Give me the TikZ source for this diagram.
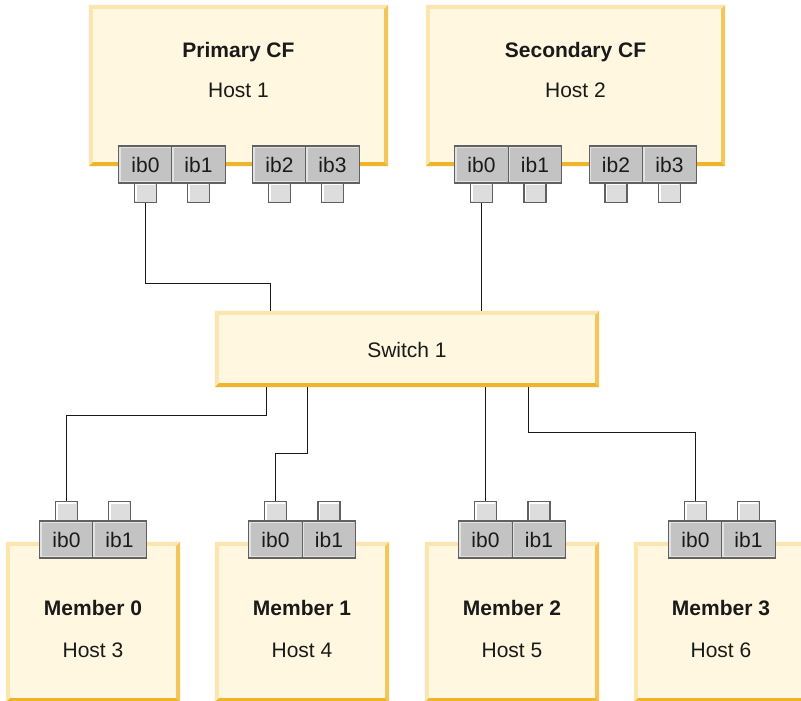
\documentclass[tikz,border=0pt]{standalone}
\usepackage{fontspec}
\setmainfont{Liberation Sans}
\usetikzlibrary{calc}
\definecolor{boxfill}{HTML}{FFF7DF}
\definecolor{bevlight}{HTML}{FCE6B0}
\definecolor{bevright}{HTML}{F2C65A}
\definecolor{bevbottom}{HTML}{EEB42C}
\definecolor{portfill}{HTML}{C3C3C3}
\definecolor{portline}{HTML}{616161}
\definecolor{porthi}{HTML}{E2E2E2}
\definecolor{sqfill}{HTML}{DDDDDD}
\definecolor{txt}{HTML}{1A1A1A}
\newcommand{\lblfont}{\fontsize{21}{24}\selectfont}
\newcommand{\bevelit}[1]{%
  \fill[bevlight] (#1.south west) -- (#1.north west) -- (#1.north east)
    -- ([shift={(-4pt,-4pt)}]#1.north east) -- ([shift={(4pt,-4pt)}]#1.north west)
    -- ([shift={(4pt,4pt)}]#1.south west) -- cycle;
  \fill[bevright] (#1.north east) -- (#1.south east)
    -- ([shift={(-4pt,4pt)}]#1.south east) -- ([shift={(-4pt,-4pt)}]#1.north east) -- cycle;
  \fill[bevbottom] (#1.south west) -- (#1.south east)
    -- ([shift={(-4pt,4pt)}]#1.south east) -- ([shift={(4pt,4pt)}]#1.south west) -- cycle;}
\newcommand{\porthl}[1]{%
  \draw[porthi, line width=1.4pt] ([shift={(2pt,2pt)}]#1.south west) -- ([shift={(2pt,-2pt)}]#1.north west) -- ([shift={(-2pt,-2pt)}]#1.north east);
  \draw[porthi, line width=1.2pt] ([shift={(2pt,2.2pt)}]#1.south west) -- ([shift={(-2pt,2.2pt)}]#1.south east);}
\newcommand{\sqhl}[1]{%
  \draw[white, line width=1.3pt] ([shift={(2pt,2pt)}]#1.south west) -- ([shift={(2pt,-2pt)}]#1.north west) -- ([shift={(-2pt,-2pt)}]#1.north east);}
\tikzset{
  hostbox/.style={rectangle, fill=boxfill, draw=none, inner sep=0pt},
  port/.style={rectangle, fill=portfill, draw=portline, line width=1.3pt, minimum width=53.5pt, minimum height=37pt, inner sep=0pt, font=\lblfont, text=txt},
  portsq/.style={rectangle, fill=sqfill, draw=portline, line width=1.3pt, minimum width=22pt, minimum height=19.5pt, inner sep=0pt},
  title/.style={font=\lblfont\bfseries, text=txt, anchor=base, inner sep=0pt},
  sub/.style={font=\lblfont, text=txt, anchor=base, inner sep=0pt},
  wire/.style={draw=black!90, line width=1.4pt}
}
\begin{document}
\begin{tikzpicture}[x=1pt,y=-1pt]
\useasboundingbox (0,0) rectangle (801,701);
\fill[white] (0,0) rectangle (801,701);
\clip (0,0) rectangle (801,701);

% host boxes
\node[hostbox, minimum width=299pt, minimum height=161pt] (cf1) at (238.5,85.5) {};
\node[hostbox, minimum width=299pt, minimum height=161pt] (cf2) at (575.5,85.5) {};
\node[hostbox, minimum width=384pt, minimum height=76pt] (sw) at (407,349) {};
\node[hostbox, minimum width=174pt, minimum height=160pt] (m0) at (93,622) {};
\node[hostbox, minimum width=174pt, minimum height=160pt] (m1) at (302,622) {};
\node[hostbox, minimum width=174pt, minimum height=160pt] (m2) at (512,622) {};
\node[hostbox, minimum width=174pt, minimum height=160pt] (m3) at (721,622) {};
\foreach \b in {cf1,cf2,sw,m0,m1,m2,m3} {\bevelit{\b}}

% labels
\node[title] (cf1a) at (238.5,57.5) {Primary CF};
\node[sub]   (cf1b) at (238.5,98) {Host 1};
\node[title] (cf2a) at (575.5,57.5) {Secondary CF};
\node[sub]   (cf2b) at (575.5,98) {Host 2};
\node[sub]   (swa)  at (407,357.5) {Switch 1};
\node[title] (m0a) at (93,615) {Member 0};
\node[sub]   (m0b) at (93,657) {Host 3};
\node[title] (m1a) at (302,615) {Member 1};
\node[sub]   (m1b) at (302,657) {Host 4};
\node[title] (m2a) at (512,615) {Member 2};
\node[sub]   (m2b) at (512,657) {Host 5};
\node[title] (m3a) at (721,615) {Member 3};
\node[sub]   (m3b) at (721,657) {Host 6};

% CF ports
\foreach \n/\x/\t in {c1p0/145.5/ib0, c1p1/198.5/ib1, c1p2/279.5/ib2, c1p3/332.5/ib3,
                      c2p0/481.5/ib0, c2p1/535/ib1, c2p2/616/ib2, c2p3/669.5/ib3} {
  \node[port] (\n) at (\x,164.5) {\t};
  \porthl{\n}
  \node[portsq] (\n-s) at (\x,192.75) {};
  \sqhl{\n-s}
}
% member ports
\foreach \n/\x/\t in {m0p0/66.5/ib0, m0p1/119.5/ib1, m1p0/275.5/ib0, m1p1/329/ib1,
                      m2p0/485.5/ib0, m2p1/539/ib1, m3p0/695.5/ib0, m3p1/748.5/ib1} {
  \node[port] (\n) at (\x,539.5) {\t};
  \porthl{\n}
  \node[portsq] (\n-s) at (\x,511.25) {};
  \sqhl{\n-s}
}

% connectors
\draw[wire] (c1p0-s.south) -- (145.5,283.5) -- (270.5,283.5) -- (270.5,0 |- sw.north);
\draw[wire] (c2p0-s.south) -- (c2p0-s.south |- sw.north);
\draw[wire] (266.5,0 |- sw.south) -- (266.5,415.5) -| (m0p0-s.north);
\draw[wire] (307.5,0 |- sw.south) -- (307.5,453.5) -| (m1p0-s.north);
\draw[wire] (m2p0-s.north |- sw.south) -- (m2p0-s.north);
\draw[wire] (528.5,0 |- sw.south) -- (528.5,432.5) -| (m3p0-s.north);
\end{tikzpicture}
\end{document}
